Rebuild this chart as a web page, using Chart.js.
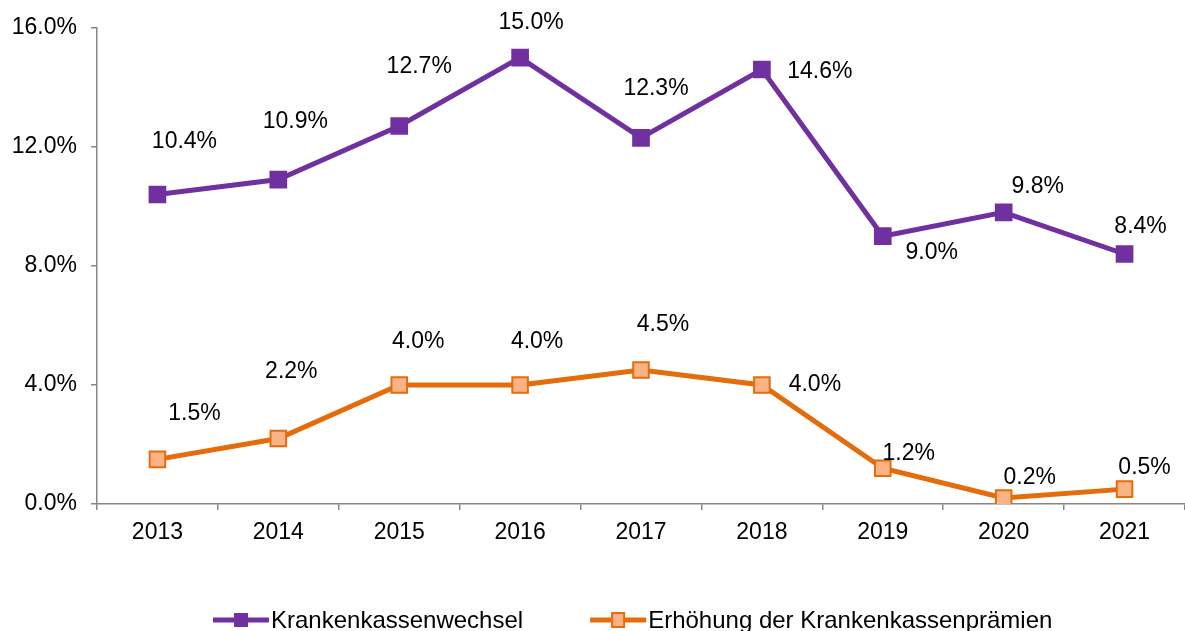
<!DOCTYPE html>
<html>
<head>
<meta charset="utf-8">
<script src="https://cdn.jsdelivr.net/npm/chart.js@4/dist/chart.umd.min.js"></script>
<style>
  html, body { margin: 0; padding: 0; background: #fff; overflow: hidden; }
  #wrap { width: 1185px; height: 631px; position: relative; }
  #chart { display: block; }
</style>
</head>
<body>
<div id="wrap"><canvas id="chart"></canvas></div>
<script>
// Data
const years = ['2013', '2014', '2015', '2016', '2017', '2018', '2019', '2020', '2021'];
const wechsel = [10.4, 10.9, 12.7, 15.0, 12.3, 14.6, 9.0, 9.8, 8.4];
const praemien = [1.5, 2.2, 4.0, 4.0, 4.5, 4.0, 1.2, 0.2, 0.5];
const seriesNames = ['Krankenkassenwechsel', 'Erhöhung der Krankenkassenprämien'];

const purple = '#7030A0';
const orange = '#E46C0A';
const orangeFill = '#FAB387';
const axisGrey = '#868686';
const font = '"Liberation Sans", Arial, sans-serif';

// label offsets (px) from each point, like the hand placed excel labels
const labelShift = [
  [[27, -53], [17, -58], [20, -59], [11, -35], [15, -49], [58, 2], [49, 17], [34, -26], [16, -27]],
  [[37, -46], [13, -67], [19, -43], [17, -43], [22, -45], [53, 0], [26, -15], [26, -20], [20, -21]]
];

const pointLabels = {
  id: 'pointLabels',
  afterDatasetsDraw(chart) {
    const ctx = chart.ctx;
    ctx.save();
    ctx.font = '23px ' + font;
    ctx.fillStyle = '#000';
    ctx.textAlign = 'center';
    ctx.textBaseline = 'middle';
    chart.data.datasets.forEach((ds, d) => {
      chart.getDatasetMeta(d).data.forEach((pt, i) => {
        const off = labelShift[d][i];
        ctx.fillText(ds.data[i].toFixed(1) + '%', pt.x + off[0], pt.y + off[1]);
      });
    });
    ctx.restore();
  }
};

// legend: line with square marker, then the name
const lineLegend = {
  id: 'lineLegend',
  afterDraw(chart) {
    const ctx = chart.ctx;
    const y = 620;
    const lineW = 56, gapText = 2, gapItems = 67;
    ctx.save();
    ctx.font = '24px ' + font;
    ctx.textBaseline = 'middle';
    ctx.textAlign = 'left';
    let x = chart.chartArea.left + 116;
    chart.data.datasets.forEach((ds, d) => {
      ctx.strokeStyle = ds.borderColor;
      ctx.lineWidth = 5;
      ctx.beginPath();
      ctx.moveTo(x, y);
      ctx.lineTo(x + lineW, y);
      ctx.stroke();
      const cx = x + lineW / 2;
      ctx.fillStyle = ds.pointBackgroundColor;
      ctx.fillRect(cx - 7, y - 7, 14, 14);
      if (d === 1) {
        ctx.lineWidth = 2;
        ctx.strokeStyle = orange;
        ctx.strokeRect(cx - 6, y - 7, 12, 14);
      }
      ctx.fillStyle = '#000';
      ctx.fillText(seriesNames[d], x + lineW + gapText, y + 1);
      x += lineW + gapText + ctx.measureText(seriesNames[d]).width + gapItems;
    });
    ctx.restore();
  }
};

new Chart(document.getElementById('chart'), {
  type: 'line',
  data: {
    labels: years,
    datasets: [
      {
        label: seriesNames[0],
        data: wechsel,
        borderColor: purple,
        backgroundColor: purple,
        borderWidth: 5,
        pointStyle: 'rect',
        pointRadius: 12.5,
        pointBackgroundColor: purple,
        pointBorderColor: purple,
        pointBorderWidth: 0,
        tension: 0
      },
      {
        label: seriesNames[1],
        data: praemien,
        borderColor: orange,
        backgroundColor: orangeFill,
        borderWidth: 5,
        pointStyle: 'rect',
        pointRadius: 11,
        pointBackgroundColor: orangeFill,
        pointBorderColor: orange,
        pointBorderWidth: 2,
        tension: 0
      }
    ]
  },
  options: {
    responsive: true,
    maintainAspectRatio: false,
    animation: false,
    layout: { autoPadding: false, padding: { top: 25, right: -5, left: 0, bottom: 0 } },
    plugins: {
      legend: { display: false },
      tooltip: { enabled: false }
    },
    scales: {
      x: {
        offset: true,
        afterFit(s) { s.height = 127; },
        grid: {
          offset: true,
          drawOnChartArea: false,
          drawTicks: true,
          tickLength: 6,
          color: axisGrey,
          lineWidth: 1.5
        },
        border: { display: true, color: axisGrey, width: 1.5 },
        ticks: {
          color: '#000',
          font: { family: font, size: 23 },
          padding: 9,
          maxRotation: 0
        }
      },
      y: {
        min: 0,
        max: 16,
        afterFit(s) { s.width = 97; },
        grid: {
          drawOnChartArea: false,
          drawTicks: true,
          tickLength: 6,
          color: axisGrey,
          lineWidth: 1.5
        },
        border: { display: true, color: axisGrey, width: 1.5 },
        ticks: {
          stepSize: 4,
          color: '#000',
          font: { family: font, size: 23 },
          padding: 14,
          callback: v => v.toFixed(1) + '%'
        }
      }
    }
  },
  plugins: [pointLabels, lineLegend]
});
</script>
</body>
</html>
